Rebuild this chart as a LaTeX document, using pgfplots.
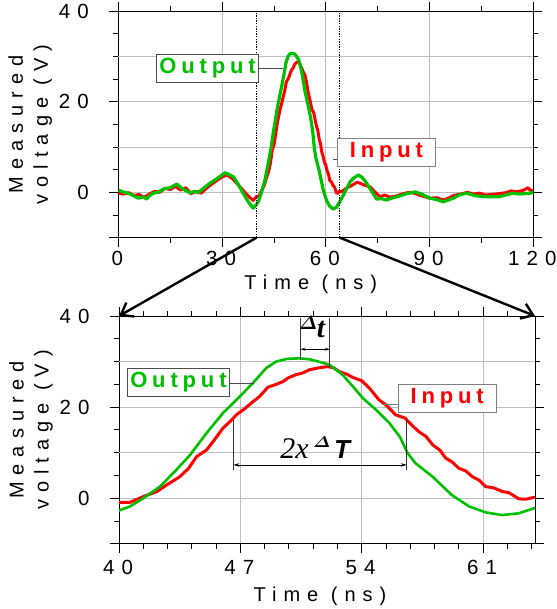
\documentclass[border=0pt]{standalone}
\usepackage{amsmath}
\usepackage{graphicx}
\usepackage{fontspec}
\setmainfont{Liberation Sans}
\newfontfamily\spaced[LetterSpace=35]{Liberation Sans}
\newfontfamily\bspaced[LetterSpace=22]{Liberation Sans}
\newfontfamily\timesf{Liberation Serif}
\usepackage{pgfplots}
\usepackage{pgfplotstable}
\pgfplotsset{compat=1.18}
\usetikzlibrary{arrows.meta}
\definecolor{cgreen}{RGB}{0,192,0}
\definecolor{cred}{RGB}{255,0,0}
\definecolor{cgrid}{RGB}{190,190,190}

\pgfplotstableread{
x y
0 0.5
1.2 0.1
2.4 -0.1
4 -0.6
5.8 -1.3
7.2 -1.0
8.2 -1.5
9 -0.8
10.1 -0.2
11.5 0.0
13 0.7
15 1.0
16.9 1.8
18.5 0.8
20.7 -0.1
22 0.2
23.1 -0.1
24.5 0.8
26.5 2.0
28.5 3.0
30.9 4.3
32 3.9
33.3 3.4
34.8 1.6
36.1 -0.2
37.5 -2.0
39.0 -3.5
40 -2.7
40.63 -1.8
41.4 0
42.36 2.55
43.3 6.2
44.1 9.5
45.05 14.3
46.0 18.7
46.96 22.3
47.73 25.3
48.5 28.6
49.07 30.0
49.7 30.6
50.4 30.7
51.0 30.5
51.5 30.0
52.14 29.3
52.9 27.1
53.5 24.5
54.06 22.0
54.83 19.4
55.6 16.5
56.2 13.5
56.65 9.9
57.1 7.7
58.1 4.7
59.2 0.7
60.2 -1.8
61.15 -3.1
62.1 -3.7
63.07 -3.3
63.94 -2.2
65.1 -0.6
67.0 2.3
68.0 3.1
69.4 3.8
70.5 3.3
71.8 2.0
73.2 0.3
74.7 -1.5
76 -1.4
77.6 -1.7
79 -1.3
80.5 -1.0
83 -0.4
85.8 0.1
88 -0.5
90.1 -1.3
92 -1.6
94.0 -2.1
95.5 -1.7
96.9 -1.3
98.5 -0.6
100.7 -0.2
102 -0.5
103.6 -0.8
106.5 -1.0
110 -1.0
112 -0.6
114.2 -0.2
116 -0.4
119 -0.2
120 0
}\greendata

\pgfplotstableread{
x y
0 -0.2
1.5 -0.4
3 -0.1
4.5 -0.7
6 -0.5
7.5 -1.1
9 -0.4
10.5 0.2
12 0.0
13.5 0.9
15 0.6
16.5 1.3
18 0.5
19.5 1.0
21 -0.3
22.5 0.2
24 -0.2
25.5 0.9
27 1.8
28.5 2.6
30 3.4
31.5 3.8
33 3.0
34.5 1.8
36 0.5
37.5 -0.8
39 -1.8
40 -0.9
40.63 -0.9
41.4 0.35
42.2 1.5
42.74 2.9
43.5 4.7
44.0 6.5
44.47 9.1
45.05 10.6
45.5 12.8
46.0 15.4
46.4 16.8
46.77 18.3
47.2 19.5
47.73 21.2
48.1 22.3
48.6 24.4
49.0 24.9
49.45 25.6
49.8 26.5
50.2 27.1
50.6 27.5
50.99 28.2
51.5 28.6
52.04 28.9
52.4 28.6
52.7 27.8
53.1 27.3
53.5 26.5
54.0 25.8
54.44 24.2
55.0 21.6
55.4 20.5
55.96 18.3
56.5 17.6
56.9 16.0
57.3 14.6
57.7 13.6
58.1 11.7
58.5 10.6
58.85 8.8
59.2 8.0
59.6 6.6
60.0 6.0
60.4 4.7
60.8 3.9
61.15 2.55
61.6 2.3
62.1 1.5
62.5 1.2
63.07 -0.15
63.5 -0.2
63.94 0.2
64.5 0.1
66 0.9
67.5 1.5
69 2.2
69.9 2.0
71 1.6
72.8 1.2
74 0.2
75.7 -1.0
77 -0.6
78.5 -1.1
80.5 -0.8
82 -0.4
84 0.0
85.5 -0.2
87 -0.6
90.1 -1.3
92 -1.2
94 -1.7
95.5 -1.3
97 -0.7
99 -0.4
101 0.0
102.5 -0.4
104.5 -0.2
106 -0.6
108 -0.5
110 -0.3
112 -0.1
113.5 0.3
115.2 0.1
117 0.4
118.5 1.0
119 0.5
120 0.3
}\reddata

\pgfplotsset{
  mystyle/.style={
    scale only axis, anchor=south west,
    axis line style={black, line width=0.8pt},
    tick align=outside,
    major tick length=9pt, minor tick length=5pt,
    tick style={black, line width=0.8pt},
    grid=major, major grid style={cgrid, line width=0.8pt},
    ymin=-10, ymax=40,
    ytick={-10,0,20,40}, yticklabels={,0,20,40},
    minor ytick={-5,5,15,25,35},
    extra y ticks={10,30}, extra y tick labels={},
    extra y tick style={major tick length=5pt, grid=major},
    ticklabel style={font=\spaced\fontsize{20.5}{24}\selectfont, inner sep=0pt},
    yticklabel style={anchor=east, xshift=-20.3pt},
    label style={font=\spaced\fontsize{20}{25}\selectfont},
    ylabel={Measured\\voltage (V)},
    ylabel style={align=center, at={(axis description cs:0,0.5)}, anchor=center, yshift=88pt},
    xlabel={Time (ns)},
  },
}
\tikzset{
  boxlab/.style={draw=black!70, line width=0.7pt, fill=white, inner xsep=3pt, inner ysep=4pt, font=\bspaced\bfseries\fontsize{22}{24}\selectfont},
}

\begin{document}
\begin{tikzpicture}
\path[use as bounding box] (0,0) rectangle (556pt,609pt);

% ---------- top axis ----------
\begin{axis}[mystyle, name=top,
  at={(118.3pt,371.4pt)}, width=415pt, height=226.6pt,
  xmin=0, xmax=120, xtick={0,30,60,90,120}, xticklabels={0,30,60,90,120},
  minor xtick={15,45,75,105},
  xticklabel style={anchor=base, yshift=-19pt, xshift=-1pt},
  xlabel style={at={(axis description cs:0.5,0)}, anchor=base, yshift=-52.4pt, xshift=-15pt},
]
\addplot[cred, line width=3pt, line join=round] table[x=x,y=y] {\reddata};
\addplot[cgreen, line width=3.2pt, line join=round] table[x=x,y=y] {\greendata};
\draw[black, line width=1.2pt, dash pattern=on 1.3pt off 1.3pt] (axis cs:40,-10) -- (axis cs:40,40);
\draw[black, line width=1.2pt, dash pattern=on 1.3pt off 1.3pt] (axis cs:64,-10) -- (axis cs:64,40);
\draw[black!70, line width=0.7pt] (axis cs:40.7,27.4) -- (axis cs:47.6,27.4);
\node[boxlab, minimum width=101pt, text=cgreen, anchor=east] at (axis cs:40.7,27.4) {Output};
\draw[black!70, line width=0.7pt] (axis cs:62.1,7.35) -- (axis cs:63.2,7.35);
\node[boxlab, minimum width=98.6pt, draw=black!50, text=cred, anchor=west] at (axis cs:63.2,8.8) {Input};
\coordinate (A1) at (axis cs:40,-10);
\coordinate (A2) at (axis cs:64,-10);
\end{axis}

% ---------- bottom axis ----------
\begin{axis}[mystyle, name=bot,
  at={(119pt,65.2pt)}, width=416pt, height=227.8pt,
  xmin=40, xmax=64, xtick={40,47,54,61}, xticklabels={40,47,54,61},
  minor xtick={41.4,42.8,44.2,45.6,48.4,49.8,51.2,52.6,55.4,56.8,58.2,59.6,62.4,63.8},
  xticklabel style={anchor=base, yshift=-22pt, xshift=-1pt},
  xlabel style={at={(axis description cs:0.5,0)}, anchor=base, yshift=-57.9pt, xshift=-7pt},
]
\addplot[cred, line width=3pt, line join=round] table[x=x,y=y] {\reddata};
\addplot[cgreen, line width=2.6pt, line join=round] table[x=x,y=y] {\greendata};
% Delta t
\draw[black!80, line width=0.6pt] (axis cs:50.47,39.6) -- (axis cs:50.47,30.4);
\draw[black!80, line width=0.6pt] (axis cs:52.16,39.6) -- (axis cs:52.16,28.9);
\draw[black, line width=0.6pt, {Stealth[length=5pt,width=3pt]}-{Stealth[length=5pt,width=3pt]}] (axis cs:50.47,32.7) -- (axis cs:52.16,32.7);
\node[anchor=base west, inner sep=0pt, font=\fontsize{12}{12}\selectfont] at (axis cs:50.35,37.0) {\scalebox{1.6}{$\boldsymbol{\varDelta}$}};
\node[anchor=base west, inner sep=0pt, font=\timesf\bfseries\itshape\fontsize{29}{29}\selectfont] at (axis cs:51.4,35.2) {t};
% 2x Delta T
\draw[black!80, line width=0.6pt] (axis cs:46.6,17.2) -- (axis cs:46.6,6.2);
\draw[black!80, line width=0.6pt] (axis cs:56.6,17.2) -- (axis cs:56.6,6.2);
\draw[black, line width=0.6pt, {Stealth[length=6pt,width=3.5pt]}-{Stealth[length=6pt,width=3.5pt]}] (axis cs:46.6,7.3) -- (axis cs:56.6,7.3);
\node[anchor=base west, inner sep=0pt, font=\timesf\itshape\fontsize{30}{30}\selectfont] at (axis cs:49.3,8.8) {2x};
\node[anchor=base west, inner sep=0pt, font=\fontsize{12}{12}\selectfont] at (axis cs:51.2,11.2) {\scalebox{1.45}[1.3]{$\boldsymbol{\varDelta}$}};
\node[anchor=base west, inner sep=0pt, font=\bfseries\itshape\fontsize{26}{26}\selectfont] at (axis cs:52.4,8.8) {T};
% labels
\draw[black!70, line width=0.7pt] (axis cs:46.4,25.3) -- (axis cs:47.77,25.3);
\node[boxlab, minimum width=101pt, text=cgreen, anchor=east] at (axis cs:46.4,25.4) {Output};
\draw[black!50, line width=0.7pt] (axis cs:55.2,20.7) -- (axis cs:56.1,20.7);
\node[boxlab, minimum width=97.6pt, draw=black!50, text=cred, anchor=west] at (axis cs:56.1,22.0) {Input};
\coordinate (B1) at (axis cs:40,40);
\coordinate (B2) at (axis cs:64,40);
\end{axis}

\draw[black, line width=2.4pt, -{Straight Barb[length=11pt,width=16pt,line width=2.4pt]}] (A1) -- (B1);
\draw[black, line width=2.4pt, -{Straight Barb[length=11pt,width=16pt,line width=2.4pt]}] (A2) -- (B2);
\end{tikzpicture}
\end{document}
